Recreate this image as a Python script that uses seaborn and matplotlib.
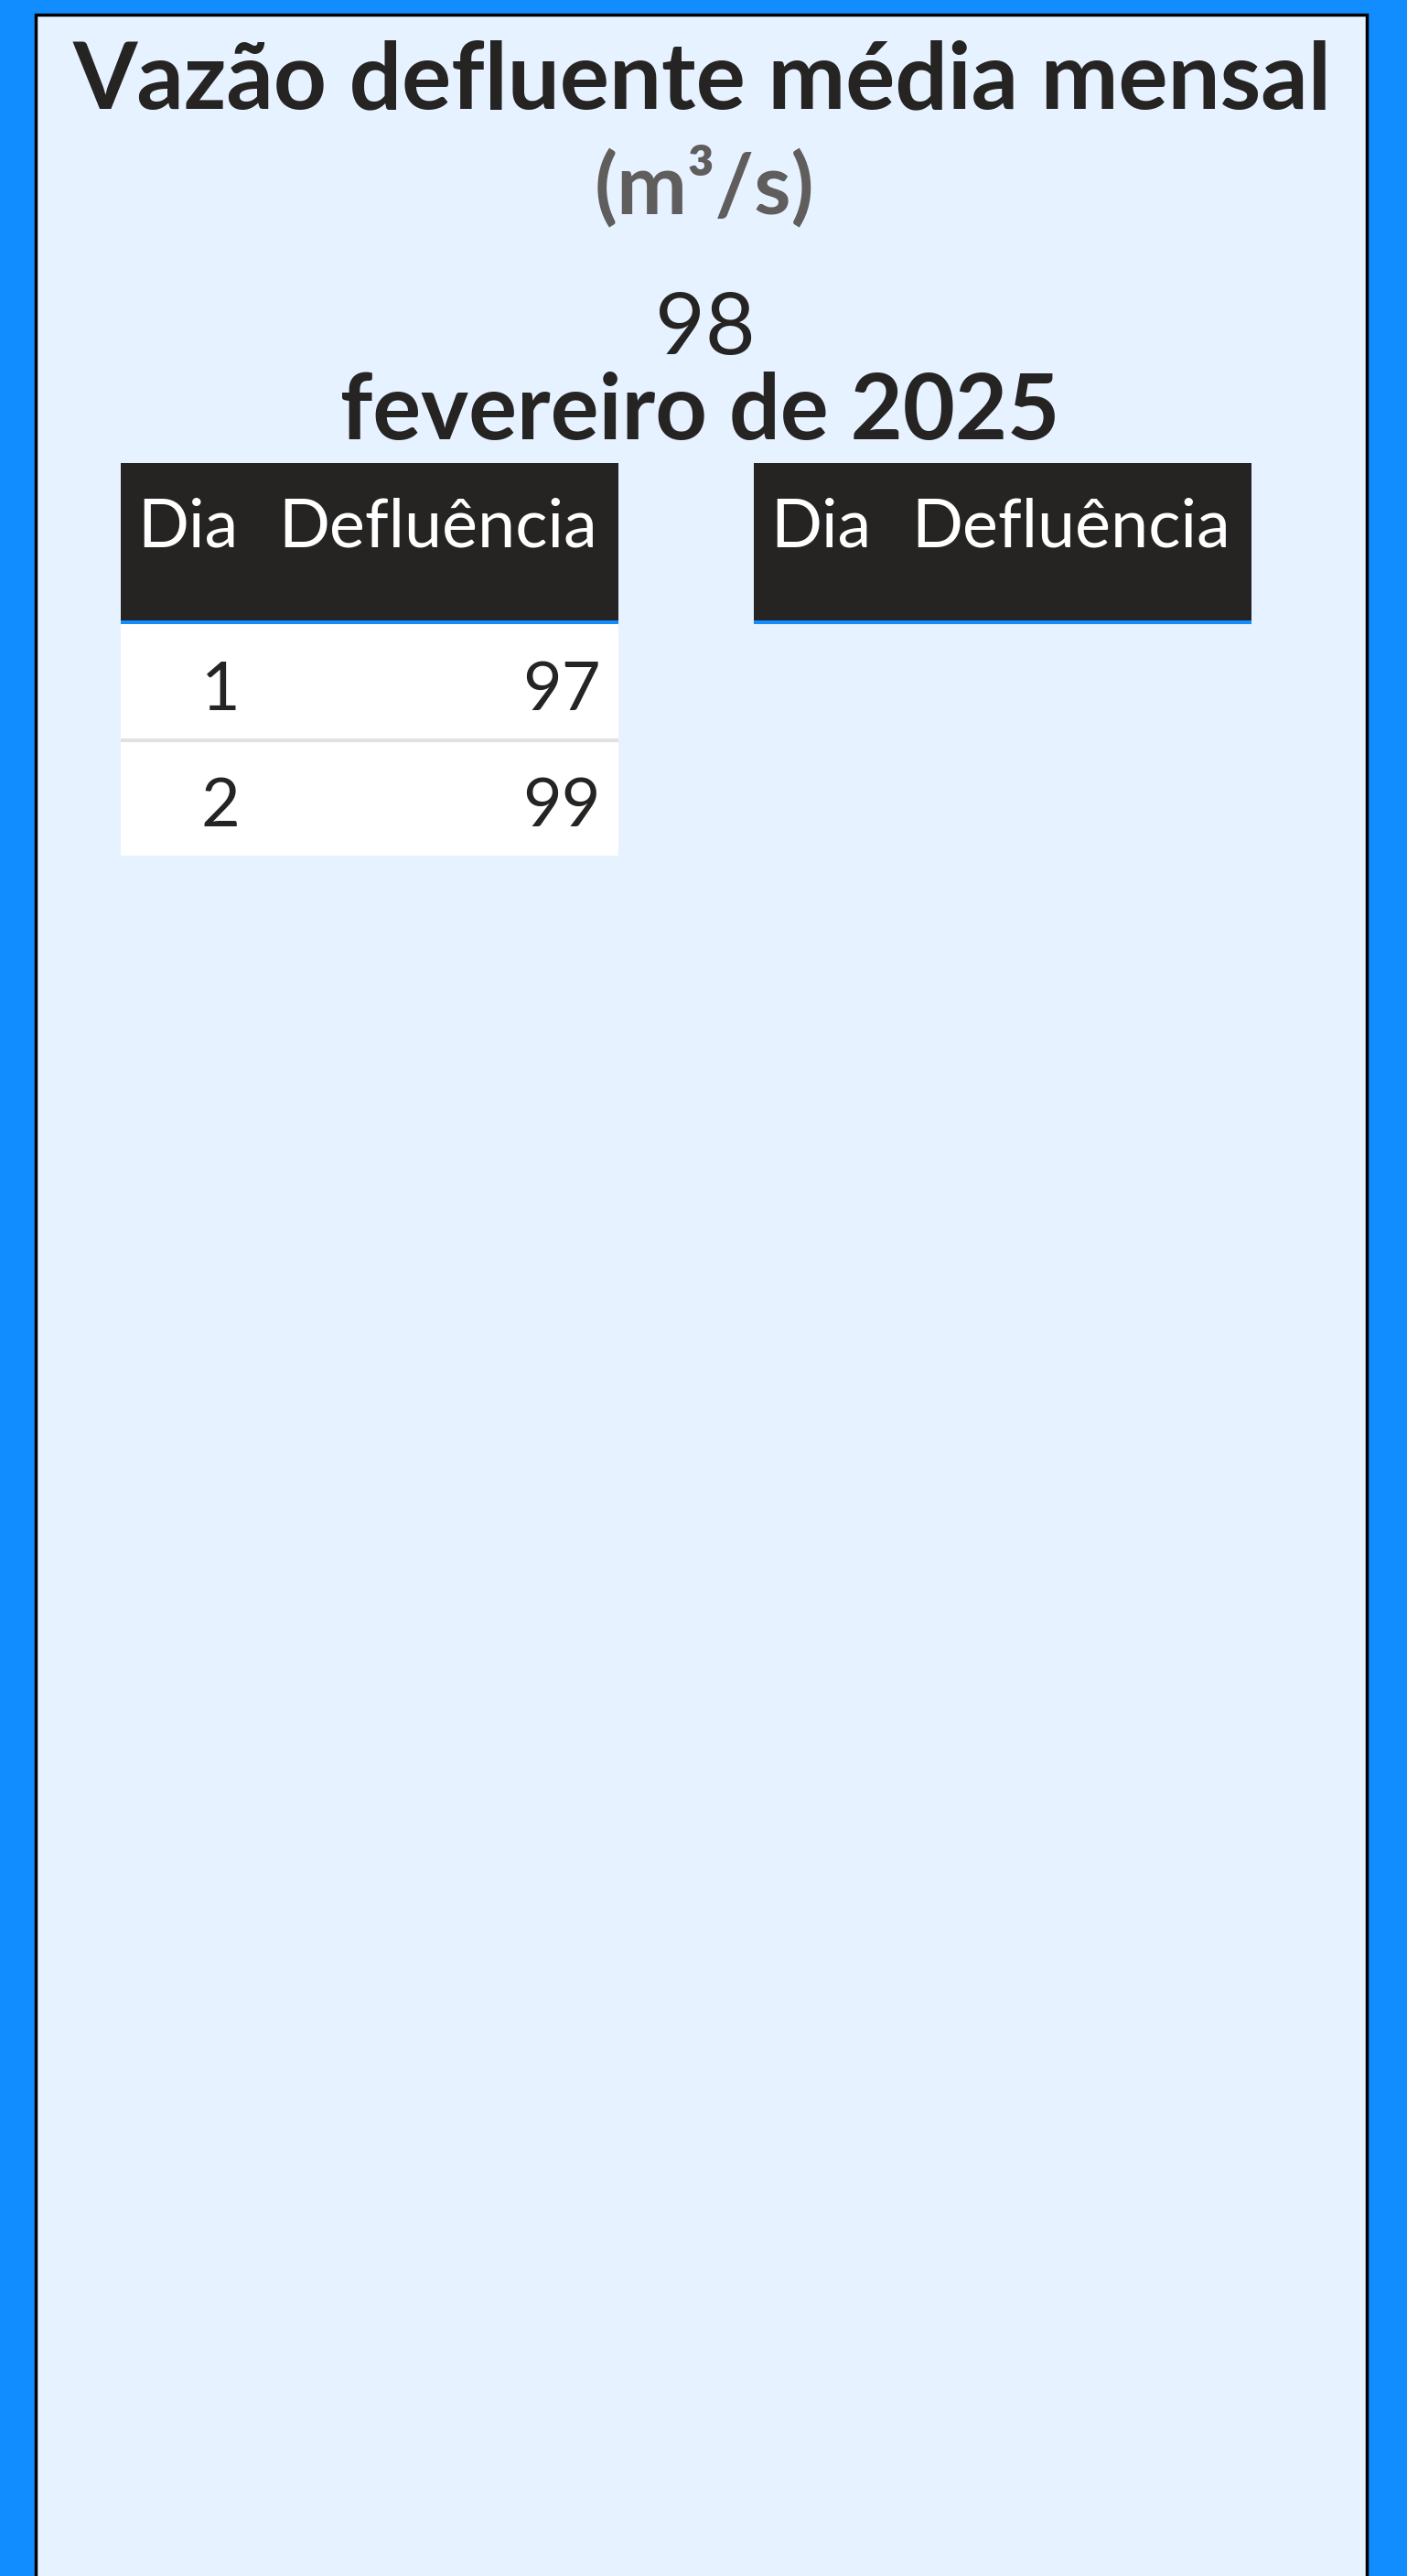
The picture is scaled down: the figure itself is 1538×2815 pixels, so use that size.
import pandas as pd
import matplotlib.pyplot as plt
import seaborn as sns
from matplotlib.colors import ListedColormap
from matplotlib.patches import Rectangle

sns.set_theme(style="white")
plt.rcParams['font.family'] = ['Lato', 'DejaVu Sans']

# Dados

titulo = 'Vazão defluente média mensal'
unidade = '(m³/s)'
media_mensal = 98
mes_ref = 'fevereiro de 2025'
colunas = ['Dia', 'Defluência']
dias_1 = [1, 2]
defluencia_1 = [97, 99]
dias_2 = []
defluencia_2 = []

AZUL = '#118DFF'
FUNDO = '#E6F2FF'
ESCURO = '#252423'
CINZA = '#605E5C'

W, H = 1538, 2815
fig = plt.figure(figsize=(W / 100, H / 100), dpi=100, facecolor=AZUL)


def fx(x):
    return x / W


def fy(y):
    return 1 - y / H


def eixo_px(x0, y0, x1, y1):
    return fig.add_axes([fx(x0), fy(y1), (x1 - x0) / W, (y1 - y0) / H])


# Painel de fundo
fig.patches.append(Rectangle((fx(38.5), -0.01), (1494 - 38.5) / W, fy(16) + 0.01,
                             transform=fig.transFigure, facecolor=FUNDO,
                             edgecolor='black', linewidth=2.5, zorder=-2))

# Cabeçalho do cartão
fig.text(fx(768), fy(118), titulo, ha='center', va='baseline', fontsize=73,
         fontweight='bold', color=ESCURO)
fig.text(fx(770), fy(233), unidade, ha='center', va='baseline', fontsize=66,
         fontweight='bold', color=CINZA)
fig.text(fx(771), fy(387), f'{media_mensal}', ha='center', va='baseline',
         fontsize=68, color=ESCURO)
fig.text(fx(765), fy(480), mes_ref, ha='center', va='baseline', fontsize=71,
         fontweight='bold', color=ESCURO)


# Tabelas

def tabela(x0, dias, valores):
    x_div, x1 = x0 + 150, x0 + 544
    fig.patches.append(Rectangle((fx(x0), fy(678)), (x1 - x0) / W, (678 - 506) / H,
                                 transform=fig.transFigure, facecolor=ESCURO,
                                 edgecolor='none', zorder=1))
    fig.patches.append(Rectangle((fx(x0), fy(682)), (x1 - x0) / W, 4 / H,
                                 transform=fig.transFigure, facecolor=AZUL,
                                 edgecolor='none', zorder=1))
    fig.text(fx(x_div - 22), fy(598), colunas[0], ha='right', va='baseline',
             fontsize=53, color='white')
    fig.text(fx(x1 - 23), fy(598), colunas[1], ha='right', va='baseline',
             fontsize=53, color='white')
    if len(dias) == 0:
        return
    df = pd.DataFrame({colunas[0]: dias, colunas[1]: valores})
    y1 = 682 + 126.5 * len(df)
    for col, (a, b) in zip(colunas, [(x0, x_div), (x_div, x1)]):
        ax = eixo_px(a, 682, b, y1)
        sns.heatmap(df[[col]], ax=ax, cmap=ListedColormap(['white']), vmin=0, vmax=1,
                    cbar=False, xticklabels=False, yticklabels=False)
        for i in range(1, len(df)):
            ax.axhline(i, color='#E1E1E1', linewidth=2.9)
        for i, v in enumerate(df[col]):
            ax.annotate(f'{v}', xy=(1, i + 0.745), xycoords=('axes fraction', 'data'),
                        xytext=(-14, 0), textcoords='offset points', ha='right',
                        va='baseline', fontsize=53, color=ESCURO)


tabela(132, dias_1, defluencia_1)
tabela(824, dias_2, defluencia_2)

fig.savefig('out.png', dpi=100, facecolor=fig.get_facecolor())
